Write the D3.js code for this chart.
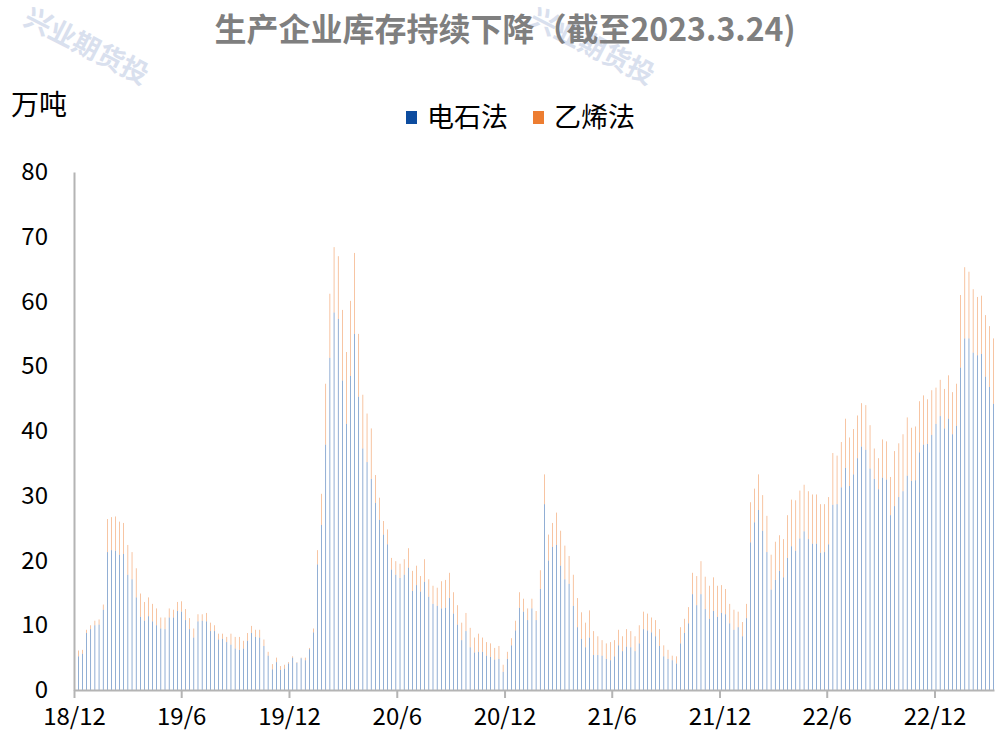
<!DOCTYPE html>
<html>
<head>
<meta charset="utf-8">
<script src="https://cdn.jsdelivr.net/npm/d3@7"></script>
<style>
  body { margin: 0; background: #fff; }
  svg { font-family: "Noto Sans CJK SC", "Noto Sans", sans-serif; }
</style>
</head>
<body>
<svg id="chart" width="1000" height="742"></svg>
<script>
// weekly data, first week 2018-12-21, last week 2023-03-24
const firstWeek = "2018-12-21";

// 电石法 (万吨)
const carbide = [
  5.2, 5.6, 8.8, 9.4, 10.0, 10.1, 12.4, 21.3, 21.6, 21.5, 20.9, 21.0, 17.8, 17.1, 14.3, 11.3,
  10.7, 11.4, 10.6, 10.0, 9.5, 9.4, 11.2, 11.2, 12.2, 12.1, 10.8, 9.4, 8.1, 10.6, 10.7, 10.6,
  9.1, 9.1, 7.8, 7.9, 7.4, 7.0, 6.4, 6.2, 6.4, 7.6, 8.8, 8.2, 8.1, 6.8, 5.3, 3.2,
  4.3, 3.1, 3.3, 4.1, 5.0, 4.2, 4.9, 4.6, 6.3, 8.9, 19.4, 25.5, 37.9, 51.3, 58.3, 57.3,
  47.8, 41.1, 48.5, 55.0, 45.3, 37.3, 35.2, 32.6, 28.9, 26.3, 24.0, 22.5, 18.6, 17.8, 17.3, 17.8,
  18.9, 15.3, 16.2, 15.2, 16.7, 14.4, 13.3, 13.0, 12.6, 12.7, 14.2, 11.8, 10.1, 7.7, 9.1, 6.6,
  5.8, 5.9, 5.9, 5.3, 5.1, 4.7, 4.8, 2.8, 4.8, 6.9, 9.2, 12.7, 12.1, 10.8, 12.6, 10.8,
  15.6, 28.7, 20.0, 22.1, 22.4, 19.2, 17.1, 16.4, 13.0, 9.7, 7.9, 6.6, 8.1, 5.4, 5.4, 5.3,
  4.8, 4.6, 5.2, 6.9, 6.0, 6.7, 6.6, 6.0, 7.2, 9.4, 9.2, 8.9, 8.3, 6.8, 5.2, 4.8,
  4.6, 4.1, 7.2, 8.8, 10.3, 14.8, 13.1, 14.8, 12.5, 11.0, 12.2, 11.3, 11.9, 11.7, 10.3, 9.3,
  9.7, 8.3, 11.1, 22.8, 25.9, 27.8, 24.6, 21.3, 15.5, 17.0, 18.4, 17.4, 20.4, 22.2, 21.5, 23.4,
  24.5, 23.3, 22.6, 22.6, 21.2, 21.3, 22.5, 28.6, 28.7, 31.3, 34.3, 31.5, 33.3, 35.8, 37.6, 37.1,
  34.2, 32.6, 31.0, 32.8, 32.5, 27.0, 28.4, 29.8, 30.7, 33.1, 32.3, 32.4, 36.7, 37.9, 38.0, 39.4,
  41.1, 42.3, 40.4, 41.9, 39.5, 40.8, 49.8, 54.3, 54.3, 52.1, 51.7, 51.9, 48.4, 46.8, 44.2
];

// 乙烯法 (万吨)
const ethylene = [
  0.9, 0.6, 0.5, 0.6, 0.7, 0.8, 0.8, 5.1, 5.1, 5.3, 5.1, 4.8, 4.6, 4.2, 4.5, 3.6,
  2.9, 2.9, 2.7, 2.6, 1.7, 1.8, 1.4, 1.2, 1.4, 1.6, 1.7, 1.7, 1.4, 1.1, 1.0, 1.3,
  1.3, 0.9, 0.9, 0.8, 0.8, 1.7, 1.8, 2.0, 1.2, 1.2, 1.1, 1.1, 1.2, 1.0, 0.6, 0.8,
  0.7, 0.6, 0.6, 0.2, 0.2, 0.1, 0.1, 0.4, 0.2, 0.6, 2.2, 4.8, 9.4, 9.9, 10.1, 9.7,
  10.9, 11.1, 11.6, 12.5, 9.7, 8.3, 7.5, 7.8, 4.3, 3.4, 2.1, 2.3, 1.8, 2.1, 2.2, 2.4,
  3.0, 3.1, 3.0, 2.4, 3.5, 2.7, 2.8, 2.8, 4.2, 4.3, 3.9, 3.3, 3.0, 2.7, 2.8, 3.0,
  2.3, 2.8, 2.2, 2.1, 2.1, 1.8, 2.0, 1.1, 1.1, 1.1, 1.5, 2.4, 2.0, 1.8, 1.5, 1.4,
  2.9, 4.6, 4.0, 3.7, 5.0, 5.4, 5.2, 4.3, 4.8, 4.5, 4.1, 3.8, 4.2, 3.7, 2.9, 2.4,
  2.4, 2.8, 2.5, 2.4, 2.3, 2.7, 2.5, 2.3, 2.8, 2.7, 2.6, 2.3, 2.5, 2.6, 1.7, 1.4,
  0.7, 1.1, 2.5, 2.2, 2.5, 3.3, 4.5, 5.1, 5.0, 5.1, 5.2, 4.8, 4.3, 3.9, 3.0, 3.1,
  2.4, 2.2, 2.2, 6.2, 5.2, 5.5, 5.5, 5.6, 5.4, 5.9, 5.5, 5.9, 6.6, 7.2, 7.8, 7.4,
  7.2, 7.4, 7.6, 7.6, 7.5, 7.4, 7.3, 8.0, 7.5, 7.0, 7.6, 7.5, 7.0, 6.6, 6.7, 6.9,
  6.7, 4.7, 4.8, 5.9, 5.9, 5.9, 8.5, 8.3, 8.8, 9.0, 8.2, 8.3, 7.9, 7.6, 6.9, 6.9,
  5.6, 5.6, 6.1, 6.7, 6.5, 6.5, 11.2, 11.0, 10.3, 9.8, 9.0, 9.0, 9.5, 9.4, 10.1
];

const seriesNames = ["电石法", "乙烯法"];
const seriesColors = ["#0d4c9f", "#ed7d31"];
const yTicks = [0, 10, 20, 30, 40, 50, 60, 70, 80];
const xTickDates = ["2018-12-14", "2019-06-14", "2019-12-14", "2020-06-14", "2020-12-14",
  "2021-06-14", "2021-12-14", "2022-06-14", "2022-12-14"];
const xTickLabels = ["18/12", "19/6", "19/12", "20/6", "20/12", "21/6", "21/12", "22/6", "22/12"];

const parse = d3.timeParse("%Y-%m-%d");
const start = parse(firstWeek);
const dates = carbide.map((v, i) => d3.timeWeek.offset(start, i));

const rows = dates.map((d, i) => ({ date: d, "电石法": carbide[i], "乙烯法": ethylene[i] }));
const stacked = d3.stack().keys(seriesNames)(rows);

const svg = d3.select("#chart");
const plotL = 74, plotR = 994, plotT = 172, plotB = 690;

const x = d3.scaleTime()
  .domain([parse("2018-12-14"), parse("2023-03-25")])
  .range([plotL, plotR]);
const y = d3.scaleLinear().domain([0, 80]).range([plotB, plotT]);

// watermark
const wm = svg.append("g");
[[22, 24], [528, 24]].forEach(p => {
  wm.append("text")
    .attr("transform", `translate(${p[0]},${p[1]}) rotate(27)`)
    .attr("font-size", 27)
    .attr("font-weight", "bold")
    .attr("fill", "#d9e0ee")
    .text("兴业期货投");
});

// title
svg.append("text")
  .attr("x", 505).attr("y", 41)
  .attr("text-anchor", "middle")
  .attr("font-size", 32)
  .attr("font-weight", "bold")
  .attr("fill", "#7f7f7f")
  .text("生产企业库存持续下降（截至2023.3.24)");

// unit
svg.append("text").attr("x", 11).attr("y", 115)
  .attr("font-size", 28).attr("fill", "#000").text("万吨");

// legend
const legend = svg.append("g");
const legendX = [406, 533];
seriesNames.forEach((name, i) => {
  legend.append("rect").attr("x", legendX[i]).attr("y", 111)
    .attr("width", 11).attr("height", 13).attr("fill", seriesColors[i]);
  legend.append("text").attr("x", legendX[i] + 21).attr("y", 127)
    .attr("font-size", 27).attr("fill", "#000").text(name);
});

// bars
const barW = 0.45;
svg.append("g").selectAll("g")
  .data(stacked)
  .join("g")
  .attr("fill", (d, i) => seriesColors[i])
  .selectAll("rect")
  .data(d => d)
  .join("rect")
  .attr("x", d => x(d.data.date) + 0.3 - barW / 2)
  .attr("width", barW)
  .attr("y", d => y(d[1]))
  .attr("height", d => y(d[0]) - y(d[1]));

// y axis
const yAxis = svg.append("g")
  .attr("transform", `translate(${plotL},0)`)
  .call(d3.axisLeft(y).tickValues(yTicks).tickSize(0).tickPadding(26));
yAxis.select(".domain").attr("stroke", "#b4b4b4").attr("stroke-width", 2);
yAxis.selectAll("text").attr("font-size", 24).attr("fill", "#000")
  .attr("font-family", "'Noto Sans CJK SC', sans-serif");

// x axis
const xAxis = svg.append("g")
  .attr("transform", `translate(0,${plotB})`)
  .call(d3.axisBottom(x)
    .tickValues(xTickDates.map(parse))
    .tickFormat((d, i) => xTickLabels[i])
    .tickSize(8).tickSizeOuter(0).tickPadding(10));
xAxis.select(".domain").attr("stroke", "#b4b4b4").attr("stroke-width", 2);
xAxis.selectAll(".tick line").attr("stroke", "#b4b4b4").attr("stroke-width", 2);
xAxis.selectAll("text").attr("font-size", 24).attr("fill", "#000")
  .attr("font-family", "'Noto Sans CJK SC', sans-serif");
</script>
</body>
</html>
